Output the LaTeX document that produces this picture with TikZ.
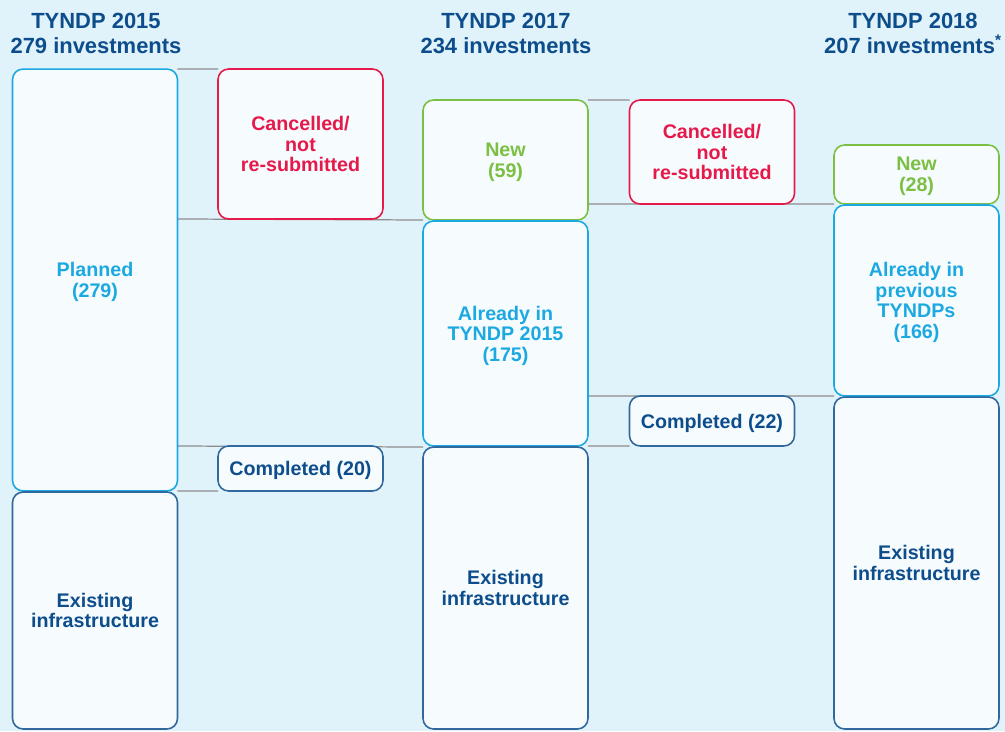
\documentclass[tikz,border=0pt]{standalone}
\usepackage{fontspec}
\setmainfont{Liberation Sans}
\usetikzlibrary{positioning,backgrounds}

\definecolor{bgblue}{HTML}{E1F3FA}
\definecolor{boxfill}{HTML}{F6FBFE}
\definecolor{navy}{HTML}{0D4D8C}
\definecolor{sky}{HTML}{1CA9E2}
\definecolor{crimson}{HTML}{E5194A}
\definecolor{leaf}{HTML}{7BBF43}
\definecolor{rule}{HTML}{8C8C8C}

\tikzset{
  box/.style={draw, fill=boxfill, rounded corners=6pt, line width=0.9pt,
    minimum width=3.3cm, align=center, inner sep=0pt, outer sep=0pt,
    text depth=0pt,
    font=\bfseries\fontsize{11.2}{11.7}\selectfont},
  planbox/.style={box, draw=sky, text=sky},
  oldbox/.style={box, draw=navy!85, text=navy},
  dropbox/.style={box, draw=crimson, text=crimson},
  newbox/.style={box, draw=leaf, text=leaf},
  title/.style={align=center, text=navy, font=\bfseries\fontsize{12.5}{14.2}\selectfont},
  link/.style={draw=rule, line width=0.7pt}
}

\begin{document}
\begin{tikzpicture}[x=0.02cm, y=-0.02cm]
  \useasboundingbox (0,0) rectangle (1005,731);

  % column titles
  \node[title] (t15) at (96,33) {TYNDP 2015\\279 investments};
  \node[title] (t17) at (506,33) {TYNDP 2017\\234 investments};
  \node[title] (t18) at (913,33) {TYNDP 2018\\207 investments\textsuperscript{*}};

  % TYNDP 2015
  \node[planbox, minimum height=8.44cm] (planned) at (95,280) {Planned\\(279)};
  \node[oldbox, minimum height=4.74cm] (existA) at (95,610.5) {Existing\\infrastructure};
  \node[dropbox, minimum height=3.0cm] (cancA) at (300.5,144) {Cancelled/\\not\\re-submitted};
  \node[oldbox, minimum height=0.9cm] (doneA) at (300.5,468.5) {Completed (20)};

  % TYNDP 2017
  \node[newbox, minimum height=2.4cm] (newB) at (505.5,160) {New\\(59)};
  \node[planbox, minimum height=4.5cm] (alreadyB) at (505.5,333.5) {Already in\\TYNDP 2015\\(175)};
  \node[oldbox, minimum height=5.64cm] (existB) at (505.5,588) {Existing\\infrastructure};
  \node[dropbox, minimum height=2.08cm] (cancB) at (712,152) {Cancelled/\\not\\re-submitted};
  \node[oldbox, minimum height=1.0cm] (doneB) at (712,421) {Completed (22)};

  % TYNDP 2018
  \node[newbox, minimum height=1.18cm] (newC) at (916.5,174.5) {New\\(28)};
  \node[planbox, minimum height=3.82cm] (alreadyC) at (916.5,300.5) {Already in\\previous\\TYNDPs\\(166)};
  \node[oldbox, minimum height=6.64cm] (existC) at (916.5,563) {Existing\\infrastructure};

  % backdrop and flow lines, behind the boxes
  \begin{scope}[on background layer]
    \fill[bgblue] (0,0) rectangle (1005,731);
    \path[link] (planned.north east) -- (cancA.north west);
    \path[link] (planned.east |- cancA.south) -- (newB.south west);
    \path[link] (planned.east |- doneA.north) -- (existB.north west);
    \path[link] (planned.south east) -- (doneA.south west);
    \path[link] (newB.north east) -- (cancB.north west);
    \path[link] (newB.east |- cancB.south) -- (newC.south west);
    \path[link] (alreadyB.east |- doneB.north) -- (alreadyC.south west);
    \path[link] (alreadyB.south east) -- (doneB.south west);
  \end{scope}
\end{tikzpicture}
\end{document}
